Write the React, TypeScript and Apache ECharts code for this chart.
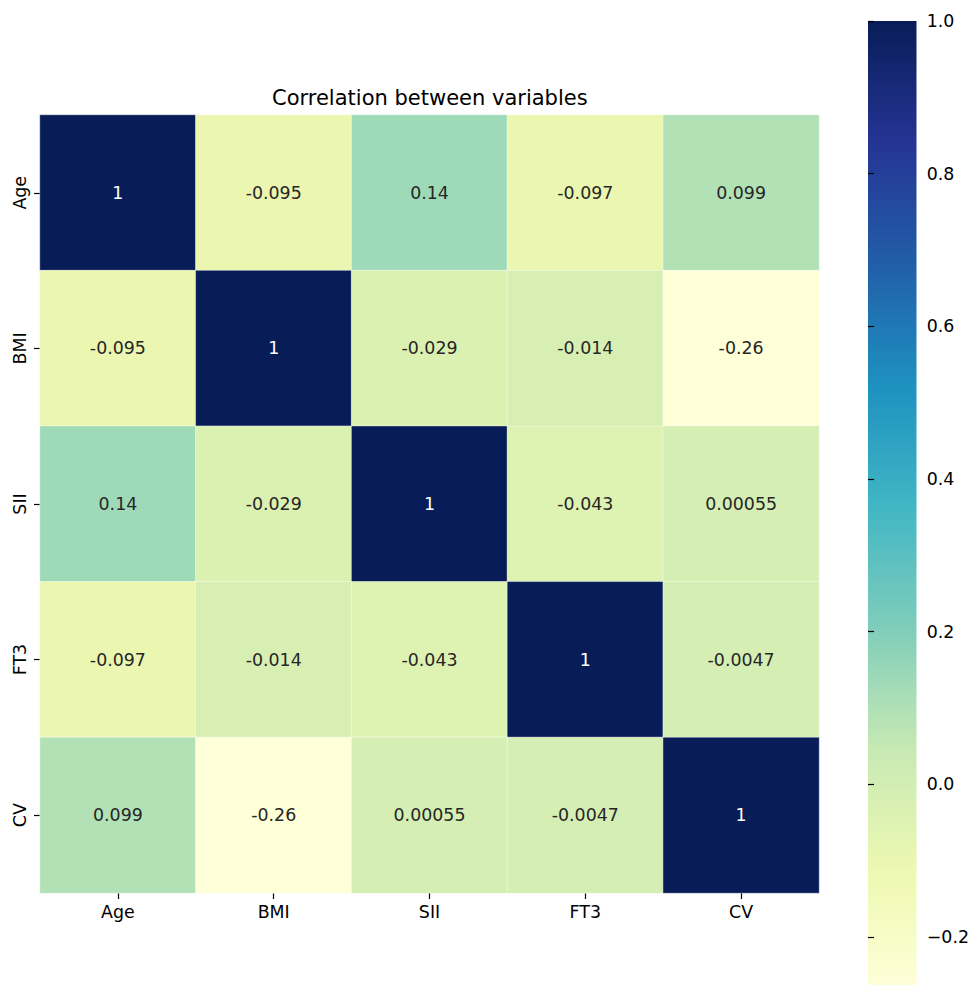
import React, { useEffect, useRef } from "react";
import * as echarts from "echarts";

const variables = ["Age", "BMI", "SII", "FT3", "CV"];
const corr: number[][] = [
  [1, -0.095, 0.14, -0.097, 0.099],
  [-0.095, 1, -0.029, -0.014, -0.26],
  [0.14, -0.029, 1, -0.043, 0.00055],
  [-0.097, -0.014, -0.043, 1, -0.0047],
  [0.099, -0.26, 0.00055, -0.0047, 1],
];
const colorbarTicks = [-0.2, 0, 0.2, 0.4, 0.6, 0.8, 1.0];
const ylgnbu = ["#ffffd9", "#edf8b1", "#c7e9b4", "#7fcdbb", "#41b6c4", "#1d91c0", "#225ea8", "#253494", "#081d58"];
const vmin = -0.2628;
const vmax = 1;
const title = "Correlation between variables";

const FONT = "DejaVu Sans";
const FS = 17.4;

function fmtG(v: number): string {
  return Number(v.toPrecision(2)).toString();
}

export default function App() {
  const ref = useRef<HTMLDivElement>(null);
  useEffect(() => {
    if (!ref.current) return;
    const chart = echarts.init(ref.current, undefined, { renderer: "svg" });
    const data: any[] = [];
    corr.forEach((row, i) =>
      row.forEach((v, j) => {
        data.push({
          value: [j, i, v],
          label: { color: v > 0.6 ? "#ffffff" : "#262626" },
        });
      })
    );
    const barTop = 21;
    const barH = 970;
    chart.setOption({
      animation: false,
      backgroundColor: "#ffffff",
      textStyle: { fontFamily: FONT },
      title: {
        text: title,
        left: 272,
        top: 87,
        padding: 0,
        textStyle: { fontFamily: FONT, fontSize: 21, fontWeight: "normal", color: "#000" },
      },
      grid: [
        { left: 40, top: 115, width: 779, height: 778 },
        { left: 868, top: barTop, width: 48.5, height: barH },
      ],
      xAxis: [
        {
          type: "category",
          gridIndex: 0,
          data: variables,
          axisLine: { show: false },
          axisTick: { show: true, length: 6, alignWithLabel: true, lineStyle: { color: "#000", width: 1.2 } },
          axisLabel: { fontFamily: FONT, fontSize: FS, color: "#000", margin: 10 },
          splitLine: { show: false },
        },
        { type: "value", gridIndex: 1, show: false, min: 0, max: 1 },
      ],
      yAxis: [
        {
          type: "category",
          gridIndex: 0,
          data: variables,
          inverse: true,
          axisLine: { show: false },
          axisTick: { show: true, length: 6, alignWithLabel: true, lineStyle: { color: "#000", width: 1.2 } },
          axisLabel: { fontFamily: FONT, fontSize: FS, color: "#000", rotate: 90, margin: 12 },
          splitLine: { show: false },
        },
        {
          type: "value",
          gridIndex: 1,
          position: "right",
          min: vmin,
          max: vmax,
          axisLine: { show: false },
          splitLine: { show: false },
          axisTick: { show: true, length: 6, customValues: colorbarTicks, lineStyle: { color: "#000", width: 1.2 } },
          axisLabel: {
            fontFamily: FONT,
            fontSize: FS,
            color: "#000",
            margin: 12,
            customValues: colorbarTicks,
            formatter: (v: number) => v.toFixed(1).replace("-", "\u2212"),
          },
        },
      ],
      visualMap: {
        show: false,
        type: "continuous",
        min: vmin,
        max: vmax,
        dimension: 2,
        seriesIndex: 0,
        inRange: { color: ylgnbu },
      },
      graphic: [
        {
          type: "rect",
          z: -1,
          shape: { x: 868, y: barTop, width: 48.5, height: barH },
          style: {
            fill: new echarts.graphic.LinearGradient(
              0, 0, 0, 1,
              ylgnbu.slice().reverse().map((c, k) => ({ offset: k / (ylgnbu.length - 1), color: c }))
            ),
          },
        },
      ],
      series: [
        {
          type: "heatmap",
          xAxisIndex: 0,
          yAxisIndex: 0,
          data,
          itemStyle: { borderColor: "rgba(255,255,255,0.7)", borderWidth: 0.6 },
          label: {
            show: true,
            fontFamily: FONT,
            fontSize: FS,
            formatter: (p: any) => fmtG(p.value[2]),
          },
          emphasis: { disabled: true },
        },
      ],
    });
    return () => chart.dispose();
  }, []);
  return (
    <div
      ref={ref}
      style={{ position: "fixed", left: 0, top: 0, width: 972, height: 985 }}
    />
  );
}
